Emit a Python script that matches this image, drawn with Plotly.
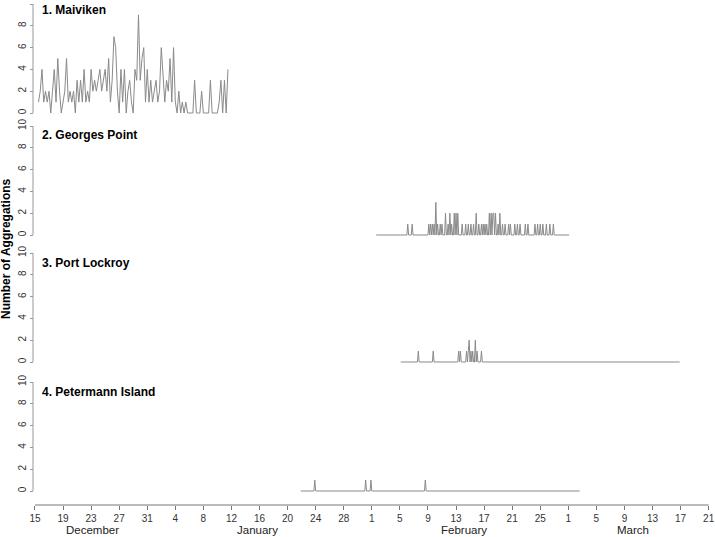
import numpy as np
import plotly.graph_objects as go

# ---------------- data ----------------
# x values are days since 15 December
tick_days = list(range(0, 97, 4))
tick_labels = ["15", "19", "23", "27", "31", "4", "8", "12", "16", "20", "24", "28",
               "1", "5", "9", "13", "17", "21", "25", "1", "5", "9", "13", "17", "21"]
month_names = ["December", "January", "February", "March"]
month_label_days = [8.2, 31.7, 61.1, 85.2]

site_names = ["1. Maiviken", "2. Georges Point", "3. Port Lockroy", "4. Petermann Island"]

# Maiviken: 6-hourly counts from 15 Dec 12:00
maiviken_start_day = 0.5
maiviken_step_days = 0.25
maiviken_counts = [
    1, 2, 4, 1, 2, 1, 2, 0, 2, 4,
    1, 5, 2, 0, 1, 2, 5, 1, 2, 1,
    2, 0, 3, 1, 3, 1, 4, 1, 2, 1,
    4, 2, 3, 2, 3, 4, 2, 3, 4, 2,
    5, 1, 3, 7, 6, 2, 0, 4, 1, 4,
    0, 2, 3, 1, 0, 4, 3, 9, 3, 5,
    6, 1, 4, 1, 3, 1, 2, 3, 1, 2,
    6, 3, 1, 3, 2, 5, 1, 6, 1, 0,
    2, 0, 1, 0, 1, 0, 0, 0, 0, 3,
    0, 0, 0, 2, 0, 0, 0, 0, 3, 0,
    0, 0, 0, 1, 3, 0, 3, 0, 4,
]

# Sparse sites: 3-hourly records, zero except at listed times
sparse_step_days = 0.125

georges_record_days = [48.625, 76.125]
georges_event_days = [
    53.125, 53.75, 56.125, 56.375, 56.625, 56.875, 57.125, 57.375, 57.75, 58.0,
    58.5, 58.875, 59.125, 59.375, 59.75, 60.0, 60.25, 60.875, 61.375, 61.75,
    62.125, 62.5, 62.875, 63.25, 63.625, 63.875, 64.125, 64.375, 64.75, 65.0,
    65.25, 65.375, 65.625, 66.0, 66.25, 66.625, 67.0, 67.5, 67.75, 68.375,
    68.75, 69.125, 69.875, 70.25, 71.25, 71.625, 72.0, 72.375, 72.875, 73.375,
    73.875,
]
georges_event_counts = [
    1, 1, 1, 1, 1, 1, 3, 1, 1, 1,
    2, 1, 2, 1, 2, 2, 2, 1, 1, 1,
    1, 1, 2, 1, 1, 1, 1, 1, 2, 2,
    2, 2, 2, 1, 2, 1, 1, 1, 1, 1,
    1, 1, 1, 1, 1, 1, 1, 1, 1, 1,
    1,
]

lockroy_record_days = [52.125, 91.875]
lockroy_event_days = [54.625, 56.75, 60.375, 60.625, 61.5, 61.75, 61.875, 62.125,
                      62.375, 62.75, 63.0, 63.625]
lockroy_event_counts = [1, 1, 1, 1, 1, 1, 2, 1, 1, 2, 1, 1]

petermann_record_days = [37.875, 77.625]
petermann_event_days = [39.875, 47.125, 47.875, 55.625]
petermann_event_counts = [1, 1, 1, 1]


def sparse_series(record, days, counts, step):
    start, end = record
    n = int(round((end - start) / step)) + 1
    x = start + np.arange(n) * step
    y = np.zeros(n)
    for d, c in zip(days, counts):
        y[int(round((d - start) / step))] = c
    return x, y


mx = maiviken_start_day + np.arange(len(maiviken_counts)) * maiviken_step_days
series = [
    (mx, np.array(maiviken_counts, dtype=float)),
    sparse_series(georges_record_days, georges_event_days, georges_event_counts, sparse_step_days),
    sparse_series(lockroy_record_days, lockroy_event_days, lockroy_event_counts, sparse_step_days),
    sparse_series(petermann_record_days, petermann_event_days, petermann_event_counts, sparse_step_days),
]

# ---------------- layout geometry ----------------
W, H = 715, 537
ML, MR = 33, 6
PW = W - ML - MR
baselines_px = [113, 235, 362, 491]
unit_px = 10.9
y_lo, y_hi = -0.3, 10.3
title_px = [10, 135, 263, 392]


def py(px):
    return (H - px) / H


fig = go.Figure()
FONT = "Liberation Sans, Arial, sans-serif"
axis_font = dict(family=FONT, size=10, color="#333333")

for k, ((x, y), name) in enumerate(zip(series, site_names)):
    ya = "y" if k == 0 else f"y{k + 1}"
    fig.add_trace(go.Scatter(x=x, y=y, mode="lines", xaxis="x", yaxis=ya,
                             line=dict(color="#8a8a8a", width=1), hoverinfo="skip",
                             showlegend=False))
    b = baselines_px[k]
    dom = [py(b - y_lo * unit_px), py(b - y_hi * unit_px)]
    key = "yaxis" if k == 0 else f"yaxis{k + 1}"
    fig.layout[key] = dict(
        domain=dom, range=[y_lo, y_hi], anchor="free", position=0,
        tickvals=[0, 2, 4, 6, 8, 10], tickangle=-90, ticks="outside", ticklen=3,
        tickcolor="#999999", showline=False, showgrid=False, zeroline=False,
        tickfont=axis_font, fixedrange=True,
    )
    fig.add_shape(type="line", xref="paper", yref=ya, x0=0, x1=0, y0=0, y1=10,
                  line=dict(color="#999999", width=1))
    fig.add_annotation(text=f"<b>{name}</b>", xref="paper", yref="paper",
                       x=(40 - ML) / PW, y=py(title_px[k]), xanchor="left",
                       yanchor="middle", showarrow=False,
                       font=dict(family=FONT, size=12, color="#000000"))

fig.update_layout(
    width=W, height=H,
    margin=dict(l=ML, r=MR, t=0, b=0, autoexpand=False),
    plot_bgcolor="white", paper_bgcolor="white", showlegend=False,
    xaxis=dict(
        range=[-0.28, 96.05], anchor="free", position=py(505),
        tickvals=tick_days, ticktext=tick_labels, ticks="outside", ticklen=4,
        tickcolor="#777777", showline=False, ticklabeloverflow="allow",
        showgrid=False, zeroline=False, tickfont=axis_font, fixedrange=True,
    ),
)
# x axis line spanning first to last tick
fig.add_shape(type="line", xref="x", yref="paper", x0=tick_days[0], x1=tick_days[-1],
              y0=py(505), y1=py(505), line=dict(color="#777777", width=1))

for name, d in zip(month_names, month_label_days):
    fig.add_annotation(text=name, xref="x", yref="paper", x=d, y=py(530),
                       xanchor="center", yanchor="middle", showarrow=False,
                       font=dict(family=FONT, size=11.5, color="#222222"))

fig.add_annotation(text="<b>Number of Aggregations</b>", xref="paper", yref="paper",
                   x=(6 - ML) / PW, y=py(249), xanchor="center", yanchor="middle",
                   textangle=-90, showarrow=False,
                   font=dict(family=FONT, size=12, color="#000000"))

fig.write_html(
    "out.html",
    config={"displayModeBar": False},
    post_script="document.body.style.margin='0px';document.body.style.overflow='hidden';",
)
